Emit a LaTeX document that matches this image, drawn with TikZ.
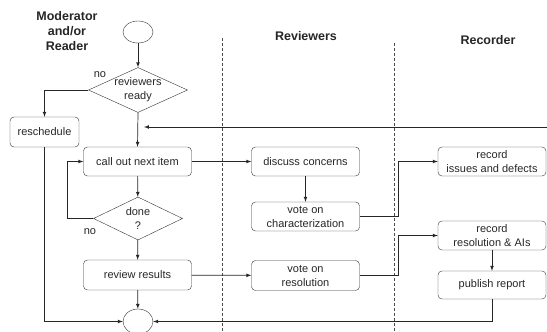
\documentclass[tikz,border=0pt]{standalone}
\usepackage{fontspec}
\setmainfont{Liberation Sans}
\usepackage{tikz}
\usetikzlibrary{shapes, arrows, positioning, calc}

\begin{document}
\begin{tikzpicture}[x=1pt,y=-1pt,
	font=\fontsize{11}{14}\selectfont,
	every node/.style={text=black!85},
	step box/.style={draw=black!80, rounded corners=4pt, align=center,
		minimum width=108pt, minimum height=29pt, inner sep=0pt},
	decision/.style={draw=black!80, diamond, inner sep=0pt},
	terminal/.style={draw=black!80, ellipse, minimum width=30pt, inner sep=0pt},
	lane/.style={font=\fontsize{12.5}{15}\selectfont\bfseries, align=center},
	arr/.style={-latex, draw=black!85, line width=0.7pt},
	sep/.style={draw=black!70, line width=0.5pt, dash pattern=on 3pt off 2pt}]
	\useasboundingbox (0,0) rectangle (547,332);

	% swimlanes
	\node[lane] (modlane) at (67,31) {Moderator\\and/or\\Reader};
	\node[lane] (revlane) at (306,36) {Reviewers};
	\node[lane] (reclane) at (488,40) {Recorder};
	\draw[sep] (222,38) -- (222,332);
	\draw[sep] (394,43) -- (394,332);

	% moderator / reader
	\node[terminal, minimum height=22pt] (start) at (138,32) {};
	\node[decision, minimum width=99pt, minimum height=45pt] (ready) at (138,90) {};
	\node[align=center] at (ready) {reviewers\\ready};
	\node[step box, minimum width=69pt, minimum height=30pt] (resched) at (44.5,132) {reschedule};
	\node[step box] (callout) at (137.5,161.5) {call out next item};
	\node[decision, minimum width=89pt, minimum height=43pt] (done) at (138,218.5) {};
	\node[align=center] at (done) {done\\?};
	\node[step box, minimum height=30pt] (review) at (137.5,275) {review results};
	\node[terminal, minimum height=25pt] (stop) at (138,321.5) {};

	% reviewers
	\node[step box] (discuss) at (305.5,161.5) {discuss concerns};
	\node[step box] (votechar) at (305.5,216.5) {vote on\\characterization};
	\node[step box, minimum height=30pt] (voteres) at (305.5,275.5) {vote on\\resolution};

	% recorder
	\node[step box] (recissues) at (492,161.5) {record\\issues and defects};
	\node[step box] (recres) at (492,235.5) {record\\resolution \& AIs};
	\node[step box, minimum height=28pt] (publish) at (492,285) {publish report};

	\coordinate (loopin) at (547,127);
	\coordinate (merge) at (144,127);

	% flow
	\draw[arr] (start) -- (ready);
	\draw[arr] (ready.west) -| (resched.north);
	\node at (100,75) {no};
	\draw[arr] (ready.south) -- (callout.north);
	\draw[arr] (loopin) -- (merge);
	\draw[arr] (callout) -- (done);
	\draw[arr] (done.west) -- ++(-26,0) |- (callout.west);
	\node at (90,232) {no};
	\draw[arr] (done) -- (review);
	\draw[arr] (review) -- (stop);
	\draw[arr] (resched.south) |- (stop.west);
	\draw[arr] (callout) -- (discuss);
	\draw[arr] (discuss) -- (votechar);
	\draw[arr] (review) -- (voteres);
	\draw[arr] (votechar.east) -- ++(39,0) |- (recissues.west);
	\draw[arr] (voteres.east) -- ++(39,0) |- (recres.west);
	\draw[arr] (recres) -- (publish);
	\draw[arr] (publish.south) |- (stop.east);
\end{tikzpicture}
\end{document}
